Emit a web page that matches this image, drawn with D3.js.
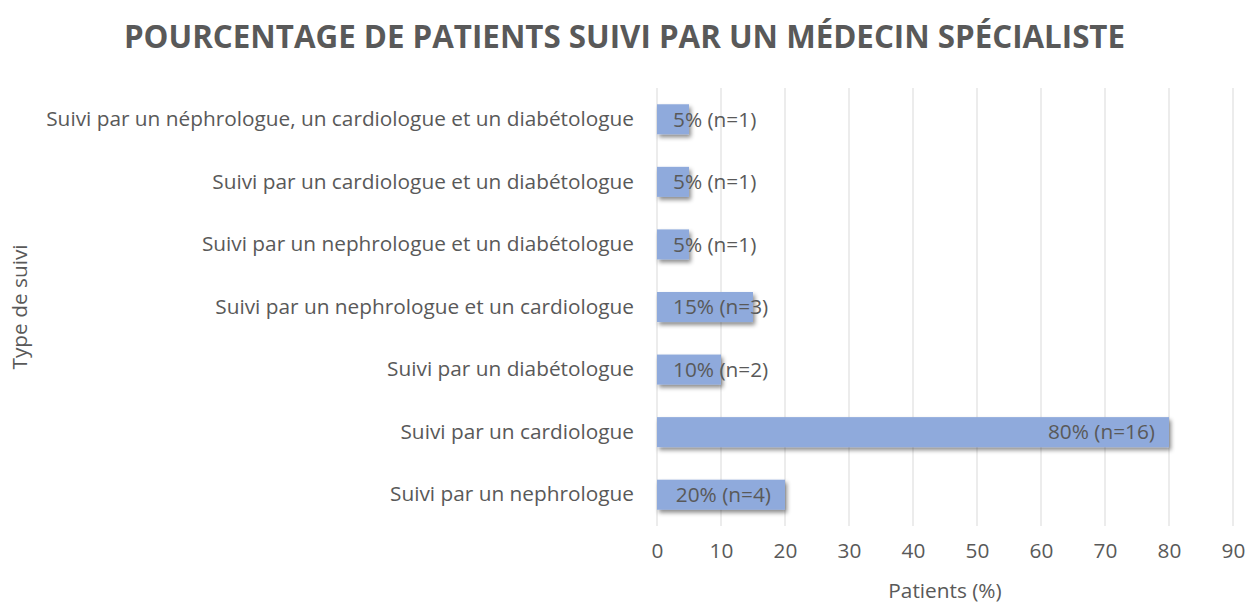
<!DOCTYPE html>
<html>
<head>
<meta charset="utf-8">
<script src="https://cdn.jsdelivr.net/npm/d3@7"></script>
<style>
  body { margin: 0; background: #fff; }
  svg text { font-family: "Open Sans", "Noto Sans", sans-serif; fill: #595959; }
</style>
</head>
<body>
<div class="chart"></div>
<script>
var categories = [
  'Suivi par un néphrologue, un cardiologue et un diabétologue',
  'Suivi par un cardiologue et un diabétologue',
  'Suivi par un nephrologue et un diabétologue',
  'Suivi par un nephrologue et un cardiologue',
  'Suivi par un diabétologue',
  'Suivi par un cardiologue',
  'Suivi par un nephrologue'
];
var percents = [5, 5, 5, 15, 10, 80, 20];
var counts = [1, 1, 1, 3, 2, 16, 4];
var xTicks = [0, 10, 20, 30, 40, 50, 60, 70, 80, 90];

var svgWidth = 1249;
var svgHeight = 604;
var margin = {top: 88, right: 16, bottom: 78, left: 657};
var width = svgWidth - margin.left - margin.right;
var height = svgHeight - margin.top - margin.bottom;
var fs = '20.8px';

var svg = d3.select('.chart')
  .append('svg')
  .attr('width', svgWidth)
  .attr('height', svgHeight);

// shadow under the bars
var defs = svg.append('defs');
var f = defs.append('filter').attr('id', 'shadow')
  .attr('x', '-10%').attr('y', '-30%').attr('width', '130%').attr('height', '190%');
f.append('feDropShadow')
  .attr('dx', 2).attr('dy', 3).attr('stdDeviation', 2.2)
  .attr('flood-color', '#000').attr('flood-opacity', 0.45);

svg.append('text')
  .attr('x', svgWidth / 2)
  .attr('y', 48)
  .attr('text-anchor', 'middle')
  .style('font-size', '31.3px')
  .style('font-weight', 'bold')
  .text('POURCENTAGE DE PATIENTS SUIVI PAR UN MÉDECIN SPÉCIALISTE');

var chart = svg.append('g')
  .attr('transform', 'translate(' + margin.left + ',' + margin.top + ')');

var x = d3.scaleLinear().domain([0, 90]).range([0, width]);
var y = d3.scaleBand().domain(categories).range([0, height]).paddingInner(0.52).paddingOuter(0.26);

// gridlines
chart.selectAll('.grid')
  .data(xTicks)
  .enter()
  .append('line')
  .attr('x1', function(d) { return x(d); })
  .attr('x2', function(d) { return x(d); })
  .attr('y1', 0)
  .attr('y2', height)
  .attr('stroke', '#d9d9d9')
  .attr('stroke-width', 1);

// bottom axis (labels only)
var bottomAxis = d3.axisBottom(x).tickValues(xTicks).tickSize(0).tickPadding(17);
var gx = chart.append('g')
  .attr('transform', 'translate(0,' + height + ')')
  .call(bottomAxis);
gx.select('.domain').remove();
gx.selectAll('text').style('font-size', fs).style('font-family', null);

// left axis (labels only)
var leftAxis = d3.axisLeft(y).tickSize(0).tickPadding(23);
var gy = chart.append('g').call(leftAxis);
gy.select('.domain').remove();
gy.selectAll('text').style('font-size', fs).style('font-family', null);

// bars
chart.selectAll('.bar')
  .data(percents)
  .enter()
  .append('rect')
  .attr('x', x(0))
  .attr('y', function(d, i) { return y(categories[i]); })
  .attr('width', function(d) { return x(d) - x(0); })
  .attr('height', y.bandwidth())
  .attr('fill', '#8faadc')
  .attr('filter', 'url(#shadow)');

// data labels, inside end
chart.selectAll('.lbl')
  .data(percents)
  .enter()
  .append('text')
  .attr('class', 'lbl')
  .style('font-size', fs)
  .attr('dy', '0.35em')
  .attr('y', function(d, i) { return y(categories[i]) + y.bandwidth() / 2; })
  .attr('text-anchor', 'end')
  .text(function(d, i) { return d + '% (n=' + counts[i] + ')'; })
  .attr('x', function(d) {
    var w = this.getComputedTextLength();
    return Math.max(x(d) - 14, x(0) + 16 + w);
  });

// axis titles
chart.append('text')
  .attr('x', width / 2)
  .attr('y', height + 72)
  .attr('text-anchor', 'middle')
  .style('font-size', fs)
  .text('Patients (%)');

chart.append('text')
  .attr('transform', 'rotate(-90)')
  .attr('x', -height / 2)
  .attr('y', -margin.left + 27)
  .attr('text-anchor', 'middle')
  .style('font-size', fs)
  .text('Type de suivi');
</script>
</body>
</html>
